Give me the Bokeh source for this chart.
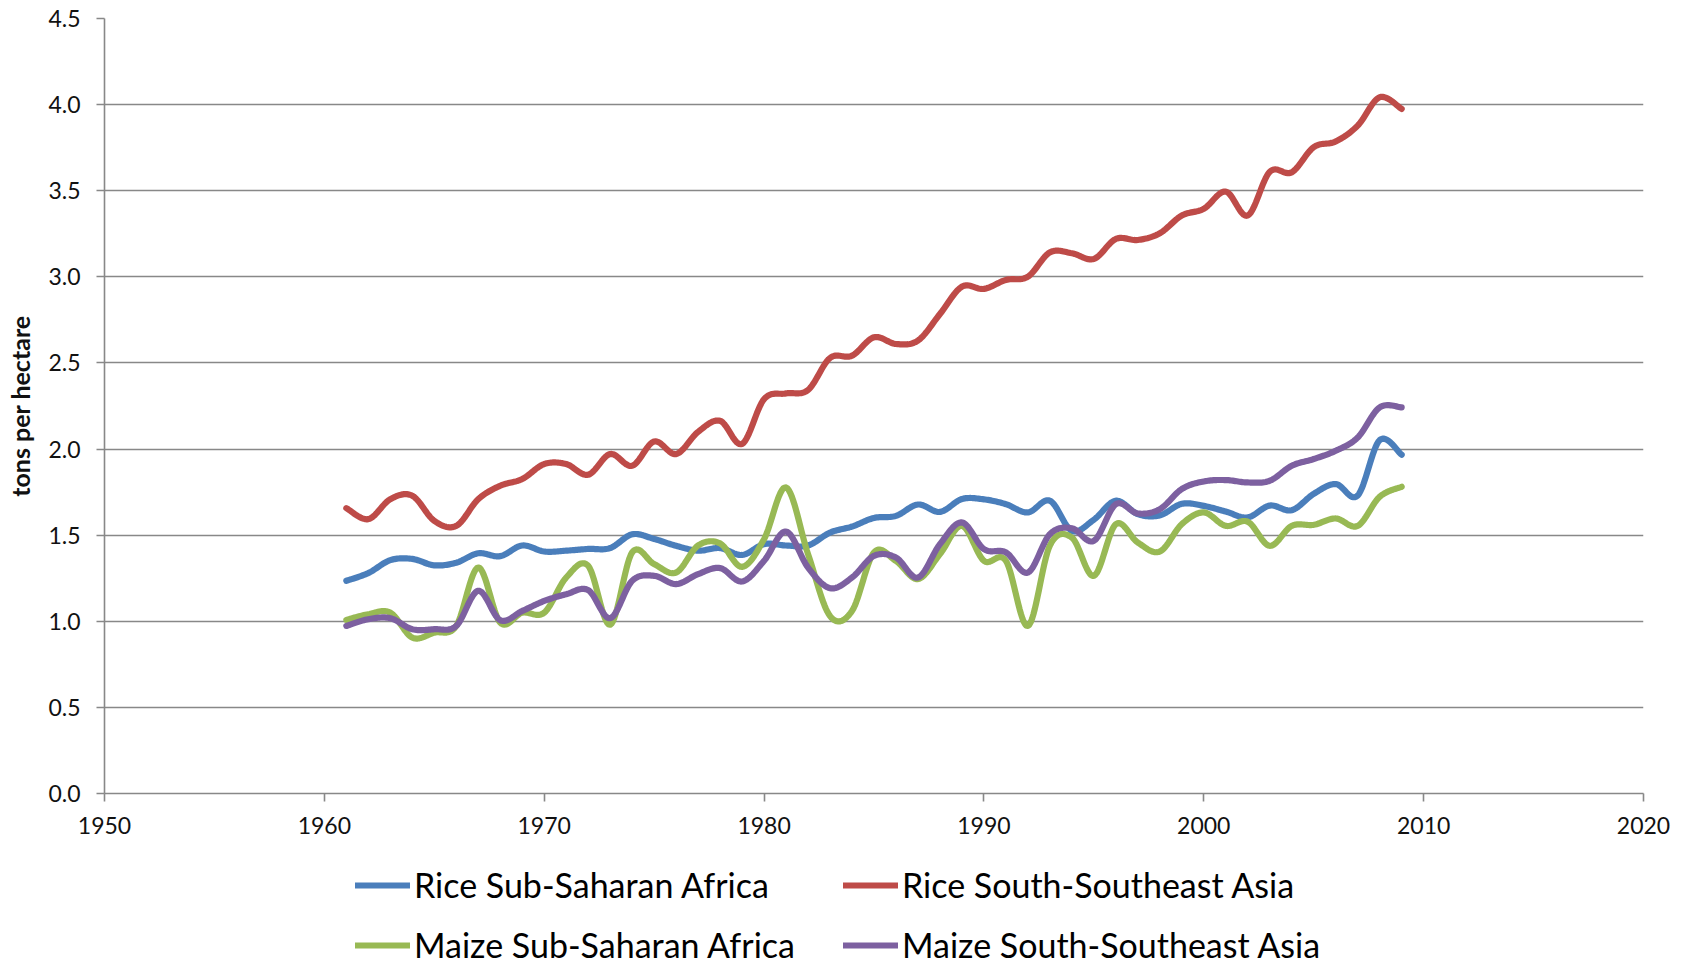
from bokeh.plotting import figure
from bokeh.layouts import column
from bokeh.models import FixedTicker, Legend, LegendItem, Range1d, NumeralTickFormatter
from bokeh.embed import file_html
from bokeh.resources import INLINE

# ---------------- data (tons per hectare) ----------------
years = list(range(1961, 2010))

rice_ssa = [1.235, 1.28, 1.355, 1.362, 1.325, 1.34, 1.395, 1.378, 1.44, 1.405,
            1.41, 1.42, 1.425, 1.505, 1.478, 1.438, 1.41, 1.425, 1.385, 1.448,
            1.44, 1.44, 1.515, 1.55, 1.60, 1.612, 1.678, 1.635, 1.71, 1.708,
            1.68, 1.632, 1.70, 1.525, 1.59, 1.70, 1.622, 1.615, 1.682, 1.67,
            1.637, 1.603, 1.672, 1.645, 1.74, 1.797, 1.73, 2.052, 1.967]

rice_ssea = [1.657, 1.593, 1.709, 1.729, 1.583, 1.554, 1.709, 1.787, 1.826, 1.913,
             1.913, 1.851, 1.971, 1.903, 2.044, 1.971, 2.10, 2.164, 2.03, 2.29,
             2.323, 2.343, 2.529, 2.542, 2.649, 2.61, 2.63, 2.784, 2.943, 2.93,
             2.982, 3.001, 3.142, 3.137, 3.104, 3.22, 3.214, 3.253, 3.356, 3.395,
             3.495, 3.356, 3.61, 3.607, 3.753, 3.786, 3.878, 4.043, 3.975]

maize_ssa = [1.008, 1.041, 1.05, 0.905, 0.934, 0.973, 1.312, 0.992, 1.05, 1.05,
             1.254, 1.322, 0.98, 1.40, 1.332, 1.283, 1.44, 1.452, 1.316, 1.477,
             1.777, 1.39, 1.03, 1.06, 1.40, 1.35, 1.245, 1.39, 1.554, 1.351,
             1.351, 0.973, 1.44, 1.486, 1.264, 1.564, 1.457, 1.405, 1.564, 1.632,
             1.554, 1.578, 1.438, 1.554, 1.56, 1.597, 1.554, 1.723, 1.781]

maize_ssea = [0.973, 1.012, 1.018, 0.954, 0.954, 0.973, 1.177, 1.006, 1.06, 1.118,
              1.157, 1.181, 1.018, 1.235, 1.264, 1.216, 1.274, 1.309, 1.231, 1.351,
              1.521, 1.312, 1.192, 1.254, 1.38, 1.37, 1.254, 1.448, 1.574, 1.419,
              1.40, 1.283, 1.506, 1.54, 1.467, 1.68, 1.626, 1.651, 1.768, 1.812,
              1.82, 1.806, 1.816, 1.903, 1.942, 1.99, 2.067, 2.242, 2.242]

series_names = ["Rice Sub-Saharan Africa", "Rice South-Southeast Asia",
                "Maize Sub-Saharan Africa", "Maize South-Southeast Asia"]
series_values = [rice_ssa, rice_ssea, maize_ssa, maize_ssea]
series_colors = ["#4A7EBB", "#BE4B48", "#98B954", "#7D60A0"]

x_ticks = [1950, 1960, 1970, 1980, 1990, 2000, 2010, 2020]
y_ticks = [0.0, 0.5, 1.0, 1.5, 2.0, 2.5, 3.0, 3.5, 4.0, 4.5]
y_title = "tons per hectare"


def smoothed(xs, ys, steps=16):
    """Spreadsheet-style 'smoothed line' rendering: cubic Bezier segments
    through the data points (Catmull-Rom tangents)."""
    n = len(xs)
    ox, oy = [], []
    for i in range(n - 1):
        x0, y0 = (xs[i - 1], ys[i - 1]) if i > 0 else (xs[i], ys[i])
        x1, y1 = xs[i], ys[i]
        x2, y2 = xs[i + 1], ys[i + 1]
        x3, y3 = (xs[i + 2], ys[i + 2]) if i + 2 < n else (xs[i + 1], ys[i + 1])
        c1x, c1y = x1 + (x2 - x0) / 6.0, y1 + (y2 - y0) / 6.0
        c2x, c2y = x2 - (x3 - x1) / 6.0, y2 - (y3 - y1) / 6.0
        for k in range(steps):
            t = k / steps
            a, b, c, d = (1 - t) ** 3, 3 * t * (1 - t) ** 2, 3 * t * t * (1 - t), t ** 3
            ox.append(a * x1 + b * c1x + c * c2x + d * x2)
            oy.append(a * y1 + b * c1y + c * c2y + d * y2)
    ox.append(xs[-1])
    oy.append(ys[-1])
    return ox, oy


FONT = "Lato"
GRID = "#888888"
W = 1686
H_MAIN = 850
H_LEG = 116
LINE_W = 6.2

p = figure(width=W, height=H_MAIN,
           x_range=Range1d(x_ticks[0], x_ticks[-1]),
           y_range=Range1d(y_ticks[0], y_ticks[-1]),
           output_backend="svg", toolbar_location=None,
           min_border_left=104, min_border_right=43,
           min_border_top=18, min_border_bottom=57)

p.outline_line_color = None
p.background_fill_color = "white"
p.border_fill_color = "white"
p.xgrid.visible = False
p.ygrid.grid_line_color = GRID
p.ygrid.grid_line_width = 1.6

for ax in (p.xaxis[0], p.yaxis[0]):
    ax.axis_line_color = GRID
    ax.axis_line_width = 1.6
    ax.major_tick_line_color = GRID
    ax.major_tick_line_width = 1.6
    ax.major_tick_out = 8
    ax.major_tick_in = 0
    ax.minor_tick_line_color = None
    ax.major_label_text_font = FONT
    ax.major_label_text_font_size = "23px"
    ax.major_label_text_color = "#111111"

p.xaxis.ticker = FixedTicker(ticks=x_ticks)
p.yaxis.ticker = FixedTicker(ticks=y_ticks)
p.yaxis.formatter = NumeralTickFormatter(format="0.0")
p.xaxis.major_label_standoff = 15
p.yaxis.major_label_standoff = 16

p.yaxis.axis_label = y_title
p.yaxis.axis_label_text_font = FONT
p.yaxis.axis_label_text_font_style = "bold"
p.yaxis.axis_label_text_font_size = "25px"
p.yaxis.axis_label_text_color = "#111111"
p.yaxis.axis_label_standoff = 10

for name, vals, col in zip(series_names, series_values, series_colors):
    sx, sy = smoothed(years, vals)
    p.line(sx, sy, line_color=col, line_width=LINE_W,
           line_cap="round", line_join="round")

# ---------------- legend strip below the chart ----------------
# (the series are re-drawn here outside the visible range, only to feed the legend keys)
lf = figure(width=W, height=H_LEG, x_range=Range1d(0, 1), y_range=Range1d(0, 1),
            x_axis_type=None, y_axis_type=None,
            output_backend="svg", toolbar_location=None,
            min_border_left=0, min_border_right=0,
            min_border_top=0, min_border_bottom=0)
lf.outline_line_color = None
lf.background_fill_color = "white"
lf.border_fill_color = "white"

items = []
for name, vals, col in zip(series_names, series_values, series_colors):
    r = lf.line(years, vals, line_color=col, line_width=LINE_W, line_cap="round")
    items.append(LegendItem(label=name, renderers=[r]))

legend = Legend(items=items, location=(251, 1), ncols=2,
                orientation="horizontal", glyph_width=55, glyph_height=20,
                label_standoff=4, label_width=410, spacing=19,
                padding=0, margin=0,
                border_line_color=None, background_fill_alpha=0,
                label_text_font=FONT, label_text_font_size="34px",
                label_text_color="#000000")
lf.add_layout(legend, "center")

layout = column(p, lf, spacing=0)

open("out.html", "w").write(file_html(layout, INLINE))
